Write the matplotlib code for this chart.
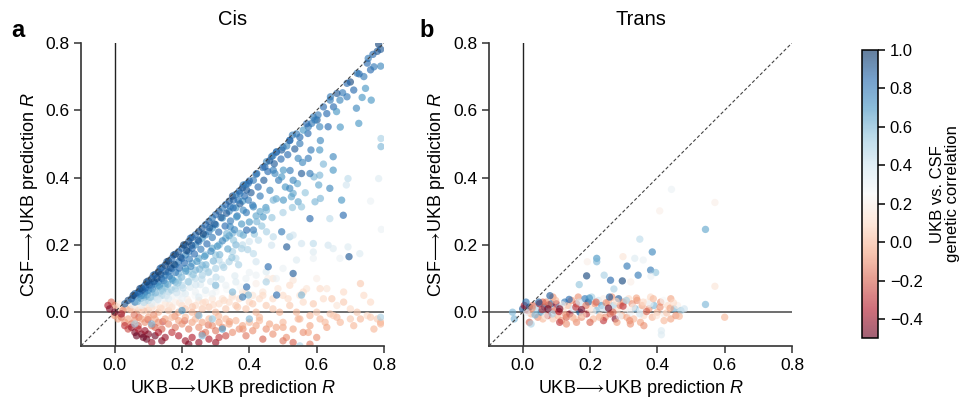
import numpy as np
import matplotlib
matplotlib.use("Agg")
import matplotlib.pyplot as plt
from matplotlib.colors import Normalize

plt.rcParams['font.family'] = ['Liberation Sans', 'DejaVu Sans']
plt.rcParams['mathtext.fontset'] = 'custom'
plt.rcParams['mathtext.it'] = 'Liberation Sans:italic'
plt.rcParams['mathtext.rm'] = 'Liberation Sans'
plt.rcParams['mathtext.fallback'] = 'stixsans'

# ---------------- data: (UKB->UKB R, CSF->UKB R, genetic correlation) ----------------
cis_upper = [
    (0.784, 0.796, .95), (0.790, 0.781, .9), (0.767, 0.766, .85), (0.753, 0.754, .8),
    (0.770, 0.729, .8), (0.790, 0.731, .75), (0.726, 0.708, .85), (0.700, 0.684, .95),
    (0.677, 0.652, .8), (0.669, 0.630, .75), (0.745, 0.665, .7), (0.735, 0.638, .7),
    (0.762, 0.630, .7), (0.718, 0.606, .75), (0.641, 0.640, .8), (0.659, 0.596, .7),
    (0.604, 0.586, .8), (0.595, 0.571, .75), (0.585, 0.561, .8), (0.575, 0.551, .8),
    (0.560, 0.541, .7), (0.609, 0.551, .75), (0.634, 0.551, .85), (0.725, 0.561, .7),
    (0.791, 0.516, .5), (0.791, 0.492, .6), (0.528, 0.526, .8), (0.520, 0.511, .85),
    (0.550, 0.501, .8), (0.545, 0.457, .75), (0.511, 0.494, .75), (0.496, 0.482, .9),
    (0.481, 0.477, .8), (0.649, 0.462, .75), (0.609, 0.482, .7), (0.575, 0.457, .8),
    (0.555, 0.412, .9), (0.580, 0.412, .8), (0.649, 0.422, .7), (0.609, 0.407, .6),
    (0.606, 0.378, .65), (0.639, 0.368, .75), (0.693, 0.397, .45), (0.688, 0.378, .4),
    (0.530, 0.392, .75), (0.520, 0.368, .75), (0.501, 0.333, .7), (0.466, 0.462, .8),
    (0.451, 0.447, .75), (0.446, 0.432, .85), (0.471, 0.422, .8), (0.476, 0.412, .75),
    (0.501, 0.422, .7), (0.496, 0.402, .7), (0.530, 0.353, .65), (0.525, 0.343, .65),
    (0.545, 0.328, .65), (0.555, 0.313, .55), (0.580, 0.278, .85), (0.639, 0.278, .45),
    (0.595, 0.328, .6), (0.611, 0.338, .6), (0.674, 0.333, .7), (0.679, 0.288, .85),
    (0.760, 0.330, .3), (0.784, 0.397, .35), (0.792, 0.246, .3), (0.696, 0.165, .9),
    (0.693, 0.194, .35), (0.728, 0.174, .35),
]
cis_middle = [
    (0.422, 0.412, .85), (0.412, 0.392, .8), (0.397, 0.383, .85), (0.392, 0.363, .9),
    (0.382, 0.378, .8), (0.372, 0.353, .8), (0.367, 0.333, .8), (0.397, 0.333, .8),
    (0.412, 0.313, .75), (0.353, 0.333, .85), (0.343, 0.313, .8), (0.382, 0.303, .75),
    (0.362, 0.283, .7), (0.432, 0.299, .65), (0.451, 0.303, .6), (0.471, 0.333, .6),
    (0.441, 0.283, .7), (0.422, 0.269, .6), (0.412, 0.244, .8), (0.451, 0.239, .5),
    (0.471, 0.224, .45), (0.427, 0.214, .45), (0.392, 0.244, .85), (0.372, 0.234, .6),
    (0.343, 0.254, .75), (0.333, 0.234, .6), (0.353, 0.214, .55), (0.377, 0.189, .5),
    (0.412, 0.174, .45), (0.466, 0.199, .4), (0.496, 0.239, .8), (0.520, 0.224, .5),
    (0.511, 0.194, .9), (0.530, 0.229, .4), (0.555, 0.204, .4), (0.590, 0.204, .45),
    (0.634, 0.199, .4), (0.590, 0.179, .35), (0.649, 0.189, .35), (0.540, 0.155, .35),
    (0.590, 0.160, .3), (0.669, 0.160, .3), (0.456, 0.135, .85), (0.481, 0.051, .85),
    (0.530, 0.115, .9), (0.555, 0.051, .6), (0.392, 0.075, .85), (0.397, 0.051, .6),
    (0.380, 0.045, .8), (0.350, 0.060, .6), (0.450, 0.090, .5), (0.300, 0.080, .6),
]
cis_diagonal = [
    (0.030, 0.025, .9), (0.040, 0.035, .95), (0.050, 0.040, .85), (0.055, 0.050, 1.0),
    (0.060, 0.055, .9), (0.070, 0.060, .85), (0.075, 0.070, .95), (0.080, 0.072, .9),
    (0.090, 0.080, .85), (0.095, 0.090, 1.0), (0.100, 0.093, .9), (0.110, 0.100, .95),
    (0.115, 0.110, .85), (0.120, 0.112, .9), (0.130, 0.120, 1.0), (0.135, 0.130, .9),
    (0.140, 0.133, .85), (0.150, 0.140, .95), (0.155, 0.150, .9), (0.160, 0.152, 1.0),
    (0.170, 0.160, .85), (0.175, 0.170, .9), (0.180, 0.172, .95), (0.190, 0.180, .9),
    (0.200, 0.190, .85), (0.205, 0.200, 1.0), (0.210, 0.200, .9), (0.220, 0.210, .95),
    (0.225, 0.220, .85), (0.230, 0.222, .9), (0.240, 0.230, .85), (0.250, 0.240, .95),
    (0.260, 0.250, .9), (0.270, 0.260, .85), (0.280, 0.270, .9), (0.290, 0.280, .8),
    (0.300, 0.290, .85), (0.310, 0.300, .9), (0.320, 0.310, .8), (0.330, 0.320, .85),
    (0.340, 0.330, .9), (0.350, 0.345, .95), (0.360, 0.350, .8), (0.370, 0.360, .85),
    (0.380, 0.370, .9), (0.390, 0.380, .8), (0.400, 0.390, .85), (0.420, 0.410, .8),
    (0.440, 0.430, .85), (0.460, 0.450, .9), (0.470, 0.465, .8), (0.480, 0.475, .85),
    (0.500, 0.490, .8), (0.520, 0.510, .85), (0.540, 0.530, .8), (0.570, 0.560, .85),
    (0.590, 0.580, .8), (0.620, 0.610, .85), (0.640, 0.630, .8), (0.660, 0.650, .9),
    (0.690, 0.680, .85), (0.720, 0.710, .8), (0.750, 0.740, .85), (0.780, 0.775, .9),
]
cis_blue_band = [
    (0.060, 0.030, .8), (0.080, 0.050, .75), (0.090, 0.060, .85), (0.100, 0.065, .8),
    (0.110, 0.080, .85), (0.120, 0.085, .75), (0.130, 0.090, .8), (0.140, 0.100, .85),
    (0.150, 0.110, .75), (0.160, 0.120, .8), (0.170, 0.130, .85), (0.180, 0.140, .75),
    (0.190, 0.150, .8), (0.200, 0.160, .85), (0.210, 0.170, .75), (0.220, 0.180, .8),
    (0.230, 0.190, .85), (0.240, 0.200, .75), (0.250, 0.210, .8), (0.260, 0.220, .7),
    (0.270, 0.230, .75), (0.280, 0.240, .8), (0.290, 0.250, .7), (0.300, 0.260, .75),
    (0.320, 0.280, .7), (0.340, 0.300, .75), (0.360, 0.310, .7), (0.380, 0.330, .7),
    (0.090, 0.045, .65), (0.110, 0.060, .6), (0.130, 0.075, .65), (0.150, 0.085, .6),
    (0.170, 0.100, .65), (0.190, 0.115, .6), (0.210, 0.130, .65), (0.230, 0.145, .6),
    (0.250, 0.160, .65), (0.270, 0.170, .6), (0.290, 0.190, .65), (0.310, 0.200, .6),
    (0.330, 0.220, .65), (0.350, 0.235, .6), (0.140, 0.070, .55), (0.180, 0.090, .6),
    (0.220, 0.120, .55), (0.260, 0.140, .6), (0.300, 0.170, .55), (0.240, 0.125, .6),
]
cis_cloud = [
    (0.062, 0.048, .85), (0.068, 0.032, .6), (0.073, 0.055, .8), (0.078, 0.041, .7),
    (0.083, 0.066, .9), (0.087, 0.029, .45), (0.092, 0.071, .85), (0.097, 0.052, .7),
    (0.103, 0.081, .9), (0.106, 0.044, .55), (0.112, 0.069, .75), (0.117, 0.091, .9),
    (0.121, 0.057, .6), (0.126, 0.101, .95), (0.128, 0.038, .4), (0.133, 0.078, .7),
    (0.137, 0.112, .9), (0.142, 0.063, .55), (0.146, 0.094, .8), (0.151, 0.121, .9),
    (0.153, 0.049, .4), (0.158, 0.083, .65), (0.162, 0.107, .8), (0.166, 0.132, .9),
    (0.169, 0.066, .5), (0.173, 0.095, .7), (0.177, 0.142, .95), (0.181, 0.118, .8),
    (0.184, 0.058, .4), (0.188, 0.087, .55), (0.192, 0.131, .85), (0.196, 0.163, .9),
    (0.199, 0.104, .6), (0.203, 0.072, .45), (0.207, 0.146, .85), (0.211, 0.122, .7),
    (0.214, 0.183, .95), (0.218, 0.091, .5), (0.222, 0.158, .8), (0.226, 0.136, .75),
    (0.229, 0.199, .9), (0.233, 0.112, .55), (0.237, 0.173, .85), (0.241, 0.081, .4),
    (0.244, 0.151, .7), (0.248, 0.214, .9), (0.252, 0.128, .6), (0.256, 0.187, .8),
    (0.259, 0.098, .45), (0.263, 0.232, .95), (0.267, 0.166, .7), (0.271, 0.141, .6),
    (0.274, 0.203, .85), (0.278, 0.118, .5), (0.282, 0.251, .9), (0.286, 0.181, .75),
    (0.290, 0.222, .8), (0.293, 0.152, .6), (0.297, 0.262, .9), (0.301, 0.104, .45),
    (0.305, 0.196, .7), (0.309, 0.238, .85), (0.312, 0.171, .6), (0.316, 0.281, .9),
    (0.320, 0.212, .75), (0.324, 0.133, .5), (0.328, 0.256, .85), (0.332, 0.294, .9),
    (0.336, 0.188, .65), (0.340, 0.227, .7), (0.344, 0.271, .8), (0.348, 0.162, .55),
    (0.352, 0.310, .85), (0.356, 0.245, .75), (0.360, 0.200, .6), (0.364, 0.286, .8),
    (0.368, 0.141, .5), (0.372, 0.322, .9), (0.377, 0.262, .7), (0.382, 0.229, .65),
    (0.386, 0.345, .85), (0.391, 0.296, .8), (0.395, 0.186, .5), (0.400, 0.268, .7),
    (0.405, 0.355, .9), (0.410, 0.318, .8), (0.415, 0.232, .55), (0.420, 0.286, .65),
    (0.426, 0.372, .85), (0.432, 0.345, .8), (0.437, 0.256, .55), (0.443, 0.392, .9),
    (0.449, 0.311, .7), (0.455, 0.418, .85), (0.461, 0.362, .75), (0.467, 0.281, .55),
    (0.474, 0.441, .9), (0.480, 0.337, .65), (0.487, 0.392, .8), (0.494, 0.455, .85),
    (0.500, 0.296, .5), (0.507, 0.372, .7), (0.514, 0.468, .85), (0.521, 0.421, .8),
    (0.528, 0.311, .55), (0.535, 0.485, .9), (0.543, 0.382, .65), (0.550, 0.520, .85),
    (0.558, 0.445, .75), (0.566, 0.355, .55), (0.574, 0.531, .85), (0.583, 0.482, .8),
    (0.592, 0.402, .6), (0.601, 0.571, .9), (0.611, 0.510, .75), (0.620, 0.440, .6),
    (0.630, 0.590, .85), (0.650, 0.610, .85), (0.670, 0.550, .7), (0.690, 0.640, .8),
    (0.710, 0.660, .85), (0.740, 0.700, .8), (0.760, 0.720, .85),
]
cis_light_band = [
    (0.100, 0.035, .5), (0.120, 0.045, .45), (0.140, 0.050, .5), (0.160, 0.060, .45),
    (0.180, 0.070, .5), (0.200, 0.080, .45), (0.220, 0.090, .5), (0.240, 0.100, .45),
    (0.260, 0.110, .5), (0.280, 0.120, .45), (0.300, 0.130, .5), (0.320, 0.140, .45),
    (0.340, 0.150, .5), (0.360, 0.160, .45), (0.150, 0.075, .55), (0.190, 0.095, .5),
    (0.230, 0.105, .45), (0.270, 0.130, .5), (0.310, 0.155, .45), (0.350, 0.180, .5),
    (0.380, 0.200, .45), (0.400, 0.210, .4), (0.420, 0.150, .4),
    (0.080, 0.020, .3), (0.110, 0.025, .35), (0.130, 0.035, .3), (0.160, 0.040, .35),
    (0.190, 0.050, .3), (0.210, 0.055, .35), (0.240, 0.060, .3), (0.270, 0.065, .35),
    (0.300, 0.075, .3), (0.330, 0.080, .3), (0.360, 0.090, .35), (0.390, 0.100, .3),
    (0.420, 0.110, .3), (0.450, 0.120, .35), (0.480, 0.100, .3), (0.500, 0.130, .3),
    (0.200, 0.040, .3), (0.250, 0.045, .35), (0.290, 0.055, .3),
]
cis_low_cloud = [
    (0.015, 0.025, .2), (0.025, 0.005, -.1), (0.035, 0.028, .25), (0.045, 0.008, .0),
    (0.052, 0.022, .3), (0.058, -0.008, -.15), (0.066, 0.018, .2), (0.072, -0.015, -.2),
    (0.079, 0.031, .35), (0.086, 0.004, .05), (0.093, 0.036, .35), (0.099, -0.022, -.25),
    (0.104, 0.018, .15), (0.109, 0.042, .4), (0.116, -0.008, -.1), (0.123, 0.029, .25),
    (0.129, 0.052, .4), (0.136, 0.013, .1), (0.143, -0.028, -.25), (0.149, 0.041, .3),
    (0.156, 0.062, .4), (0.163, 0.021, .15), (0.171, 0.048, .3), (0.179, -0.012, -.1),
    (0.186, 0.069, .4), (0.193, 0.028, .15), (0.201, 0.056, .3), (0.208, -0.025, -.2),
    (0.216, 0.038, .2), (0.224, 0.074, .35), (0.231, 0.016, .05), (0.239, 0.049, .25),
    (0.247, -0.008, -.05), (0.255, 0.082, .35), (0.262, 0.028, .1), (0.270, 0.055, .25),
    (0.278, -0.038, -.15), (0.285, 0.091, .4), (0.293, 0.022, .1), (0.301, 0.061, .25),
    (0.309, -0.012, 0.0), (0.317, 0.098, .35), (0.325, 0.035, .1), (0.333, 0.068, .25),
    (0.341, -0.028, -.05), (0.349, 0.045, .15), (0.357, 0.108, .35), (0.365, 0.015, .05),
    (0.373, 0.075, .25), (0.381, -0.050, -.1), (0.390, 0.055, .15), (0.400, 0.118, .3),
    (0.410, 0.025, .05), (0.420, 0.085, .2), (0.430, -0.015, 0.0), (0.440, 0.050, .1),
    (0.455, 0.100, .2), (0.470, 0.010, .05), (0.485, 0.070, .15), (0.500, -0.045, -.05),
    (0.515, 0.040, .1), (0.530, 0.095, .15), (0.545, -0.020, .0), (0.560, 0.060, .1),
    (0.575, -0.060, -.05), (0.590, 0.025, .05), (0.610, 0.070, .1), (0.625, -0.030, .0),
    (0.645, 0.040, .05), (0.660, -0.015, .0), (0.680, 0.030, .05), (0.710, -0.040, .0),
    (0.740, 0.050, .1), (0.770, -0.050, .0),
]
cis_near_zero = [
    (0.470, 0.100, .15), (0.520, 0.080, .1), (0.570, 0.070, .15), (0.600, 0.100, .2),
    (0.630, 0.070, .15), (0.680, 0.060, .1), (0.730, 0.085, .05), (0.760, 0.030, .1),
    (0.550, 0.050, .15), (0.620, 0.040, .1), (0.660, 0.020, .15), (0.700, 0.010, .1),
    (0.720, 0.000, .05), (0.750, -0.010, .1), (0.780, -0.020, .05), (0.790, -0.030, .0),
    (0.000, 0.020, -.1), (-0.010, 0.030, -.2), (0.010, 0.015, .05), (0.020, 0.010, .1),
    (0.030, 0.015, .0), (0.040, 0.020, .1), (0.050, 0.010, .05), (0.060, 0.015, .15),
    (0.070, 0.005, .0), (0.080, 0.010, .1), (0.090, 0.020, .15), (0.100, 0.005, .05),
    (0.110, 0.012, .1), (0.120, 0.020, .15), (0.130, 0.000, .0), (0.140, 0.010, .1),
    (0.150, 0.025, .15), (0.160, 0.005, .05), (0.170, 0.015, .1), (0.180, 0.030, .2),
    (0.190, 0.000, .0), (0.200, 0.020, .1), (0.210, 0.010, .05), (0.220, 0.030, .15),
    (0.230, 0.000, .0), (0.240, 0.020, .1), (0.250, 0.035, .15), (0.260, 0.010, .05),
    (0.270, 0.030, .1), (0.280, 0.015, .05), (0.290, 0.040, .15), (0.300, 0.000, .0),
    (0.310, 0.025, .1), (0.320, 0.040, .15), (0.330, 0.010, .05), (0.340, 0.030, .1),
    (0.350, 0.050, .15), (0.360, 0.020, .05), (0.370, 0.040, .1), (0.380, 0.060, .15),
    (0.390, 0.010, .05), (0.400, 0.030, .1), (0.410, 0.050, .15), (0.420, 0.000, .0),
    (0.430, 0.040, .1), (0.440, 0.060, .15), (0.450, 0.020, .05), (0.470, 0.040, .1),
    (0.490, 0.000, .0), (0.500, 0.050, .1), (0.520, 0.020, .05), (0.540, 0.000, .0),
    (0.560, 0.030, .1), (0.580, -0.010, .0), (0.600, 0.000, .05), (0.640, -0.005, .05),
]
cis_below_zero = [
    (0.000, -0.010, -.1), (0.010, -0.020, -.05), (0.020, -0.015, -.15), (0.030, -0.030, -.1),
    (0.040, -0.020, -.05), (0.050, -0.035, -.15), (0.060, -0.025, -.1), (0.070, -0.040, -.2),
    (0.080, -0.020, -.05), (0.090, -0.030, -.1), (0.100, -0.015, -.05), (0.110, -0.040, -.15),
    (0.120, -0.020, -.05), (0.130, -0.030, -.1), (0.140, -0.050, -.2), (0.150, -0.020, -.05),
    (0.160, -0.035, -.1), (0.170, -0.015, 0.0), (0.180, -0.045, -.15), (0.190, -0.025, -.05),
    (0.200, -0.035, -.1), (0.210, -0.015, 0.0), (0.220, -0.050, -.15), (0.230, -0.030, -.05),
    (0.240, -0.020, 0.0), (0.250, -0.045, -.1), (0.260, -0.030, -.05), (0.270, -0.060, -.15),
    (0.280, -0.020, 0.0), (0.290, -0.040, -.1), (0.300, -0.055, -.15), (0.310, -0.030, -.05),
    (0.320, -0.045, -.1), (0.330, -0.020, 0.0), (0.340, -0.035, -.05), (0.350, -0.060, -.1),
    (0.360, -0.025, 0.0), (0.370, -0.050, -.1), (0.380, -0.040, -.05), (0.390, -0.070, -.15),
    (0.400, -0.030, 0.0), (0.410, -0.055, -.1), (0.420, -0.040, -.05), (0.430, -0.025, 0.0),
    (0.450, -0.050, -.1), (0.460, -0.035, -.05), (0.470, -0.065, -.1), (0.480, -0.045, -.05),
    (0.500, -0.030, 0.0), (0.510, -0.075, -.1), (0.530, -0.050, -.05), (0.550, -0.020, 0.0),
    (0.560, -0.060, -.1), (0.580, -0.040, -.05), (0.600, -0.075, -.1), (0.610, -0.020, 0.0),
    (0.630, -0.045, -.05), (0.650, -0.010, 0.05), (0.670, -0.030, 0.0), (0.700, -0.020, 0.05),
    (0.730, -0.020, 0.0), (0.760, -0.015, 0.05), (0.790, -0.035, 0.0),
    (0.040, -0.050, -.25), (0.120, -0.045, -.2), (0.260, -0.065, -.2), (0.330, -0.070, -.25),
    (0.440, -0.080, -.2), (0.500, -0.085, -.15), (0.530, -0.090, -.2), (0.580, -0.095, -.15),
]
cis_dark_red = [
    (0.050, -0.045, -.4), (0.060, -0.060, -.45), (0.065, -0.070, -.5), (0.070, -0.050, -.35),
    (0.080, -0.065, -.45), (0.085, -0.075, -.5), (0.090, -0.055, -.4), (0.095, -0.080, -.5),
    (0.100, -0.065, -.45), (0.110, -0.090, -.4), (0.120, -0.070, -.5), (0.130, -0.060, -.35),
    (0.140, -0.085, -.45), (0.150, -0.075, -.4), (0.020, -0.005, -.4), (-0.020, 0.020, -.35),
    (-0.015, 0.010, -.45), (0.000, 0.000, -.5), (0.210, -0.085, -.4), (0.220, -0.095, -.45),
    (0.230, -0.075, -.35), (0.250, -0.090, -.4), (0.280, -0.080, -.35), (0.300, -0.090, -.4),
    (0.310, -0.075, -.3), (0.170, -0.060, -.3), (0.190, -0.070, -.35), (0.030, -0.040, -.3),
]
cis_blue_low = [
    (0.260, -0.070, .6), (0.320, -0.050, .7), (0.400, -0.020, .6), (0.550, -0.100, .5),
    (0.790, -0.015, .5), (0.200, 0.005, .7), (0.250, -0.010, .6), (0.110, -0.035, .6),
    (0.060, -0.035, .5), (0.290, -0.020, .55),
]

trans_upper = [
    (0.543, 0.246, .65), (0.543, 0.023, .6), (0.571, 0.326, .2), (0.442, 0.365, .3),
    (0.407, 0.301, .2), (0.571, 0.077, .15), (0.348, 0.217, .45), (0.385, 0.179, .75),
    (0.220, 0.160, .7), (0.220, 0.150, .6), (0.298, 0.165, .15), (0.333, 0.160, .35),
    (0.358, 0.155, .3), (0.192, 0.150, .2), (0.310, 0.137, .8), (0.380, 0.125, .8),
    (0.395, 0.118, .55), (0.343, 0.110, .8), (0.190, 0.108, .95), (0.242, 0.110, .5),
    (0.168, 0.082, .55), (0.261, 0.095, .85), (0.296, 0.093, .95), (0.271, 0.069, .5),
    (0.381, 0.107, .3), (0.081, 0.049, .9), (0.321, 0.090, .2), (0.412, -0.067, .35),
    (0.412, -0.055, .35),
]
trans_band = [
    (-0.030, 0.000, .6), (-0.025, -0.020, .6), (0.000, 0.010, .9), (0.005, 0.020, -.4),
    (0.010, 0.030, .8), (0.015, 0.005, -.3), (0.020, 0.015, .9), (0.025, -0.005, .0),
    (0.030, 0.020, -.2), (0.040, 0.010, .5), (0.045, -0.015, -.1), (0.050, 0.025, -.4),
    (0.055, 0.000, .7), (0.060, -0.020, .0), (0.065, 0.015, .9), (0.070, 0.030, -.1),
    (0.075, -0.010, -.3), (0.080, 0.010, .3), (0.085, 0.025, .9), (0.090, -0.020, .05),
    (0.095, 0.005, -.2), (0.100, 0.025, -.4), (0.105, -0.010, .0), (0.110, 0.015, .6),
    (0.115, -0.025, -.1), (0.120, 0.005, .1), (0.125, 0.030, .8), (0.130, -0.015, -.2),
    (0.135, 0.020, .0), (0.140, -0.005, -.4), (0.145, 0.035, -.1), (0.150, 0.010, .4),
    (0.155, -0.020, .05), (0.160, 0.025, -.2), (0.165, 0.045, -.1), (0.170, 0.000, .9),
    (0.175, -0.015, -.1), (0.180, 0.020, .3), (0.185, 0.040, .8), (0.190, -0.005, -.3),
    (0.195, 0.030, .9), (0.200, 0.010, .1), (0.205, 0.045, .5), (0.210, -0.020, .0),
    (0.215, 0.025, -.1), (0.220, 0.005, .6), (0.225, 0.035, .4), (0.230, -0.010, .1),
    (0.235, 0.020, .7), (0.240, 0.040, .2), (0.245, -0.015, -.1), (0.250, 0.010, .3),
    (0.255, 0.030, .0), (0.260, -0.005, -.2), (0.265, 0.045, -.1), (0.270, 0.020, .5),
    (0.275, -0.020, -.45), (0.280, 0.005, .1), (0.285, 0.040, .9), (0.290, 0.020, -.15),
    (0.295, -0.010, .0), (0.300, 0.030, -.1), (0.305, 0.010, .2), (0.310, -0.015, -.05),
    (0.315, 0.040, .1), (0.320, 0.000, .3), (0.325, 0.025, -.1), (0.330, -0.020, .0),
    (0.335, 0.010, .6), (0.340, 0.035, -.1), (0.350, 0.005, .3), (0.355, 0.020, -.05),
    (0.360, -0.010, .1), (0.370, 0.030, .2), (0.375, 0.010, -.1), (0.380, 0.045, .1),
    (0.385, -0.015, .0), (0.390, 0.020, .6), (0.400, 0.000, .0), (0.410, 0.030, -.1),
    (0.420, -0.005, .2), (0.430, 0.020, .1), (0.440, 0.040, -.05), (0.450, 0.010, .6),
    (0.455, -0.010, -.1), (0.460, 0.020, .2), (0.470, 0.005, .5), (0.600, -0.015, .0),
    (0.020, -0.030, -.2), (0.060, 0.030, -.2), (0.090, 0.045, -.1), (0.110, -0.030, -.3),
    (0.130, -0.035, -.1), (0.160, -0.030, -.1), (0.200, -0.030, -.2), (0.240, -0.025, -.3),
    (0.280, -0.030, -.05), (0.320, -0.035, -.1), (0.350, -0.030, -.05), (0.360, -0.040, -.1),
    (0.420, -0.025, .0), (0.440, -0.020, -.05), (0.025, -0.035, .5),
]
trans_band_extra = [
    (0.012, 0.000, .3), (0.028, 0.012, -.1), (0.037, -0.008, .6), (0.048, 0.030, .9),
    (0.058, 0.008, -.3), (0.068, -0.012, .2), (0.078, 0.022, -.2), (0.088, -0.005, .5),
    (0.098, 0.035, .0), (0.108, 0.002, -.35), (0.118, 0.022, .2), (0.128, -0.008, -.1),
    (0.138, 0.038, .85), (0.148, -0.015, .0), (0.158, 0.015, -.3), (0.168, 0.030, .4),
    (0.178, -0.008, .1), (0.188, 0.020, -.15), (0.198, 0.042, .7), (0.208, 0.002, .2),
    (0.218, 0.030, -.2), (0.228, -0.015, .0), (0.238, 0.012, .4), (0.248, 0.028, -.1),
    (0.258, 0.045, .9), (0.268, 0.000, -.2), (0.278, 0.032, .1), (0.288, -0.012, .3),
    (0.298, 0.018, -.3), (0.308, 0.035, .5), (0.318, -0.025, -.1), (0.328, 0.015, .2),
    (0.338, 0.042, -.05), (0.348, -0.005, .4), (0.358, 0.030, .1), (0.368, 0.002, -.2),
    (0.378, 0.025, .3), (0.388, 0.040, .0), (0.398, -0.010, .15), (0.408, 0.015, -.1),
    (0.418, 0.035, .25), (0.428, -0.002, .05), (0.438, 0.012, -.05), (0.448, 0.028, .1),
    (0.465, -0.012, .0), (0.480, 0.010, .4), (0.175, 0.008, -.45), (0.255, 0.012, -.5),
    (0.110, 0.010, -.45), (0.075, 0.010, -.5),
]

cis_groups = [cis_near_zero, cis_low_cloud, cis_below_zero, cis_dark_red, cis_light_band,
              cis_blue_band, cis_cloud, cis_middle, cis_upper, cis_diagonal, cis_blue_low]
trans_groups = [trans_band, trans_band_extra, trans_upper]

lim = (-0.1, 0.8)
ticks = [0.0, 0.2, 0.4, 0.6, 0.8]
cbar_ticks = [-0.4, -0.2, 0.0, 0.2, 0.4, 0.6, 0.8, 1.0]

fig = plt.figure(figsize=(9.62, 4.05), dpi=100)
ax_a = fig.add_axes([0.0842, 0.146, 0.315, 0.748])
ax_b = fig.add_axes([0.5083, 0.146, 0.315, 0.748])
cax = fig.add_axes([0.896, 0.165, 0.0166, 0.712])

norm = Normalize(vmin=-0.5, vmax=1.0)
cmap = plt.get_cmap('RdBu')

xlab = r'UKB$\!\longrightarrow\!$UKB prediction $R$'
ylab = r'CSF$\!\longrightarrow\!$UKB prediction $R$'

sc = None
for ax, groups, title in [(ax_a, cis_groups, 'Cis'), (ax_b, trans_groups, 'Trans')]:
    pts = np.array([p for g in groups for p in g])
    ax.axvline(0, color='#222222', lw=1.0, zorder=1)
    ax.axhline(0, color='#555555', lw=1.2, zorder=1)
    ax.plot(lim, lim, ls='--', color='#444444', lw=0.8, zorder=3, dashes=(3, 2))
    sc = ax.scatter(pts[:, 0], pts[:, 1], c=pts[:, 2], cmap=cmap, norm=norm,
                    s=28, alpha=0.62, linewidths=0, zorder=2)
    ax.set_xlim(lim)
    ax.set_ylim(lim)
    ax.set_xticks(ticks)
    ax.set_yticks(ticks)
    ax.spines['top'].set_visible(False)
    ax.spines['right'].set_visible(False)
    for s in ['left', 'bottom']:
        ax.spines[s].set_linewidth(1.2)
        ax.spines[s].set_color('#333333')
    ax.tick_params(labelsize=12.5, length=5, width=1.1, color='#333333')
    ax.set_xlabel(xlab, fontsize=13)
    ax.set_ylabel(ylab, fontsize=13)
    ax.set_title(title, fontsize=14.5, pad=13)

fig.text(0.012, 0.925, 'a', fontsize=17, fontweight='bold', va='center')
fig.text(0.436, 0.925, 'b', fontsize=17, fontweight='bold', va='center')

cb = fig.colorbar(sc, cax=cax, ticks=cbar_ticks)
cb.ax.tick_params(labelsize=12, length=5, width=1.1)
cb.outline.set_linewidth(1.1)
cb.set_label('UKB vs. CSF\ngenetic correlation', fontsize=12, labelpad=5,
             linespacing=1.0)

fig.savefig('out.png', dpi=100)
